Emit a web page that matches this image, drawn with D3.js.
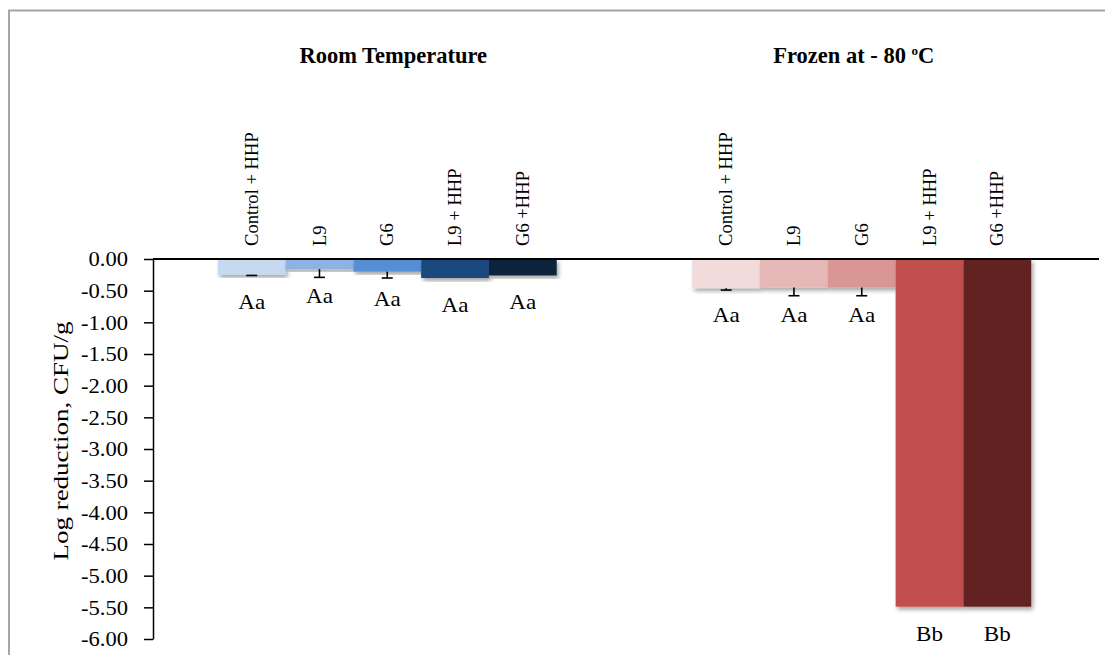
<!DOCTYPE html>
<html>
<head>
<meta charset="utf-8">
<script src="https://cdn.jsdelivr.net/npm/d3@7"></script>
<style>
  html, body { margin: 0; background: #fff; overflow: hidden; }
  svg { display: block; overflow: hidden; font-family: "Liberation Serif", "Times New Roman", serif; }
</style>
</head>
<body>
<svg class="chart"></svg>
<script>
// chart data
var groups = ["Room Temperature", "Frozen at - 80 "];
var treatments = ["Control + HHP", "L9", "G6", "L9 + HHP", "G6 +HHP"];
var roomValues = [-0.25, -0.16, -0.20, -0.30, -0.26];
var roomErrors = [0.01, 0.13, 0.10, 0, 0];
var frozenValues = [-0.46, -0.45, -0.45, -5.49, -5.49];
var frozenErrors = [0.03, 0.13, 0.13, 0, 0];
var roomLetters = ["Aa", "Aa", "Aa", "Aa", "Aa"];
var frozenLetters = ["Aa", "Aa", "Aa", "Bb", "Bb"];
var yTicks = [0, -0.5, -1, -1.5, -2, -2.5, -3, -3.5, -4, -4.5, -5, -5.5, -6];

var roomColors = ["#c6d9f0", "#8db3e2", "#558ed5", "#1f497d", "#10243e"];
var frozenColors = ["#f2dcdb", "#e6b9b8", "#d99694", "#c0504d", "#632423"];

function show() {
    'use strict';
    var width = 1105, height = 655;
    var serif = "'Liberation Serif', 'Times New Roman', serif";

    var svg = d3.select(".chart")
        .attr("width", width)
        .attr("height", height);

    var defs = svg.append("defs");
    defs.append("filter").attr("id", "shadow")
        .attr("x", "-10%").attr("y", "-10%").attr("width", "130%").attr("height", "130%")
        .append("feDropShadow")
        .attr("dx", 2).attr("dy", 3).attr("stdDeviation", 2)
        .attr("flood-color", "#000").attr("flood-opacity", 0.35);

    // outer frame (only left and top edges are visible)
    svg.append("path")
        .attr("d", "M9,700V10.5H1105")
        .attr("fill", "none").attr("stroke", "#a6a6a6").attr("stroke-width", 2);

    // build rows from the arrays
    var rows = [];
    treatments.forEach(function (t, i) {
        rows.push({key: "r" + i, name: t, value: roomValues[i], err: roomErrors[i],
                   letter: roomLetters[i], color: roomColors[i]});
    });
    treatments.forEach(function (t, i) {
        rows.push({key: "f" + i, name: t, value: frozenValues[i], err: frozenErrors[i],
                   letter: frozenLetters[i], color: frozenColors[i]});
    });

    var slots = ["r0", "r1", "r2", "r3", "r4", "gap1", "gap2", "f0", "f1", "f2", "f3", "f4"];
    var x = d3.scaleBand().domain(slots).range([150, 1099]).paddingInner(0).paddingOuter(1);
    var y = d3.scaleLinear().domain([-6, 0]).range([639, 259]);
    var cx = function (d) { return x(d.key) + x.bandwidth() / 2; };

    // bars
    svg.append("g").selectAll("rect").data(rows).enter()
        .append("rect")
        .attr("x", function (d) { return x(d.key); })
        .attr("y", y(0))
        .attr("width", x.bandwidth())
        .attr("height", function (d) { return y(d.value) - y(0); })
        .attr("fill", function (d) { return d.color; })
        .attr("filter", "url(#shadow)");

    // error bars (lower side)
    var eb = svg.append("g").attr("stroke", "#000").attr("stroke-width", 1.6);
    rows.filter(function (d) { return d.err > 0; }).forEach(function (d) {
        eb.append("line")
            .attr("x1", cx(d)).attr("x2", cx(d))
            .attr("y1", y(d.value)).attr("y2", y(d.value - d.err));
        eb.append("line")
            .attr("x1", cx(d) - 5.5).attr("x2", cx(d) + 5.5)
            .attr("y1", y(d.value - d.err)).attr("y2", y(d.value - d.err));
    });

    // zero line
    svg.append("line")
        .attr("x1", 153).attr("x2", 1099)
        .attr("y1", y(0)).attr("y2", y(0))
        .attr("stroke", "#000").attr("stroke-width", 2);

    // y axis
    var axis = svg.append("g")
        .attr("transform", "translate(153,0)")
        .call(d3.axisLeft(y).tickValues(yTicks).tickSize(9).tickSizeOuter(0)
            .tickFormat(function (d) { return d.toFixed(2); }));
    axis.attr("font-family", serif).attr("font-size", 20);
    axis.select(".domain").attr("stroke", "#000").attr("stroke-width", 1.5);
    axis.selectAll(".tick line").attr("stroke", "#000").attr("stroke-width", 1.5);
    axis.selectAll(".tick text")
        .attr("x", 0)
        .attr("dy", "0.34em")
        .attr("transform", "translate(-25,0) scale(1.13,1)")
        .attr("text-anchor", "end")
        .attr("fill", "#000");

    // y axis title
    svg.append("text")
        .attr("transform", "translate(68,441) rotate(-90) scale(1.35,1)")
        .attr("text-anchor", "middle")
        .style("font-size", "20px")
        .text("Log reduction, CFU/g");

    // category labels (vertical)
    svg.append("g").selectAll("text").data(rows).enter()
        .append("text")
        .attr("transform", function (d) {
            return "translate(" + cx(d) + ",246) rotate(-90)";
        })
        .attr("dy", "0.33em")
        .style("font-size", "18.6px")
        .text(function (d) { return d.name; });

    // significance letters
    svg.append("g").selectAll("text").data(rows).enter()
        .append("text")
        .attr("transform", function (d) {
            return "translate(" + cx(d) + "," + (y(d.value) + 34) + ") scale(1.05,1)";
        })
        .attr("text-anchor", "middle")
        .style("font-size", "22px")
        .text(function (d) { return d.letter; });

    // group titles
    var titleX = [x("r2") + x.bandwidth() / 2 + 6, x("f2") + x.bandwidth() / 2 - 8];
    groups.forEach(function (g, i) {
        var t = svg.append("text")
            .attr("x", titleX[i]).attr("y", 63)
            .attr("text-anchor", "middle")
            .style("font-size", "22.5px")
            .style("font-weight", "bold")
            .text(g);
        if (i === 1) {
            t.append("tspan").attr("dy", -8).style("font-size", "13px").text("o");
            t.append("tspan").attr("dy", 8).text("C");
        }
    });
}
show();
</script>
</body>
</html>
